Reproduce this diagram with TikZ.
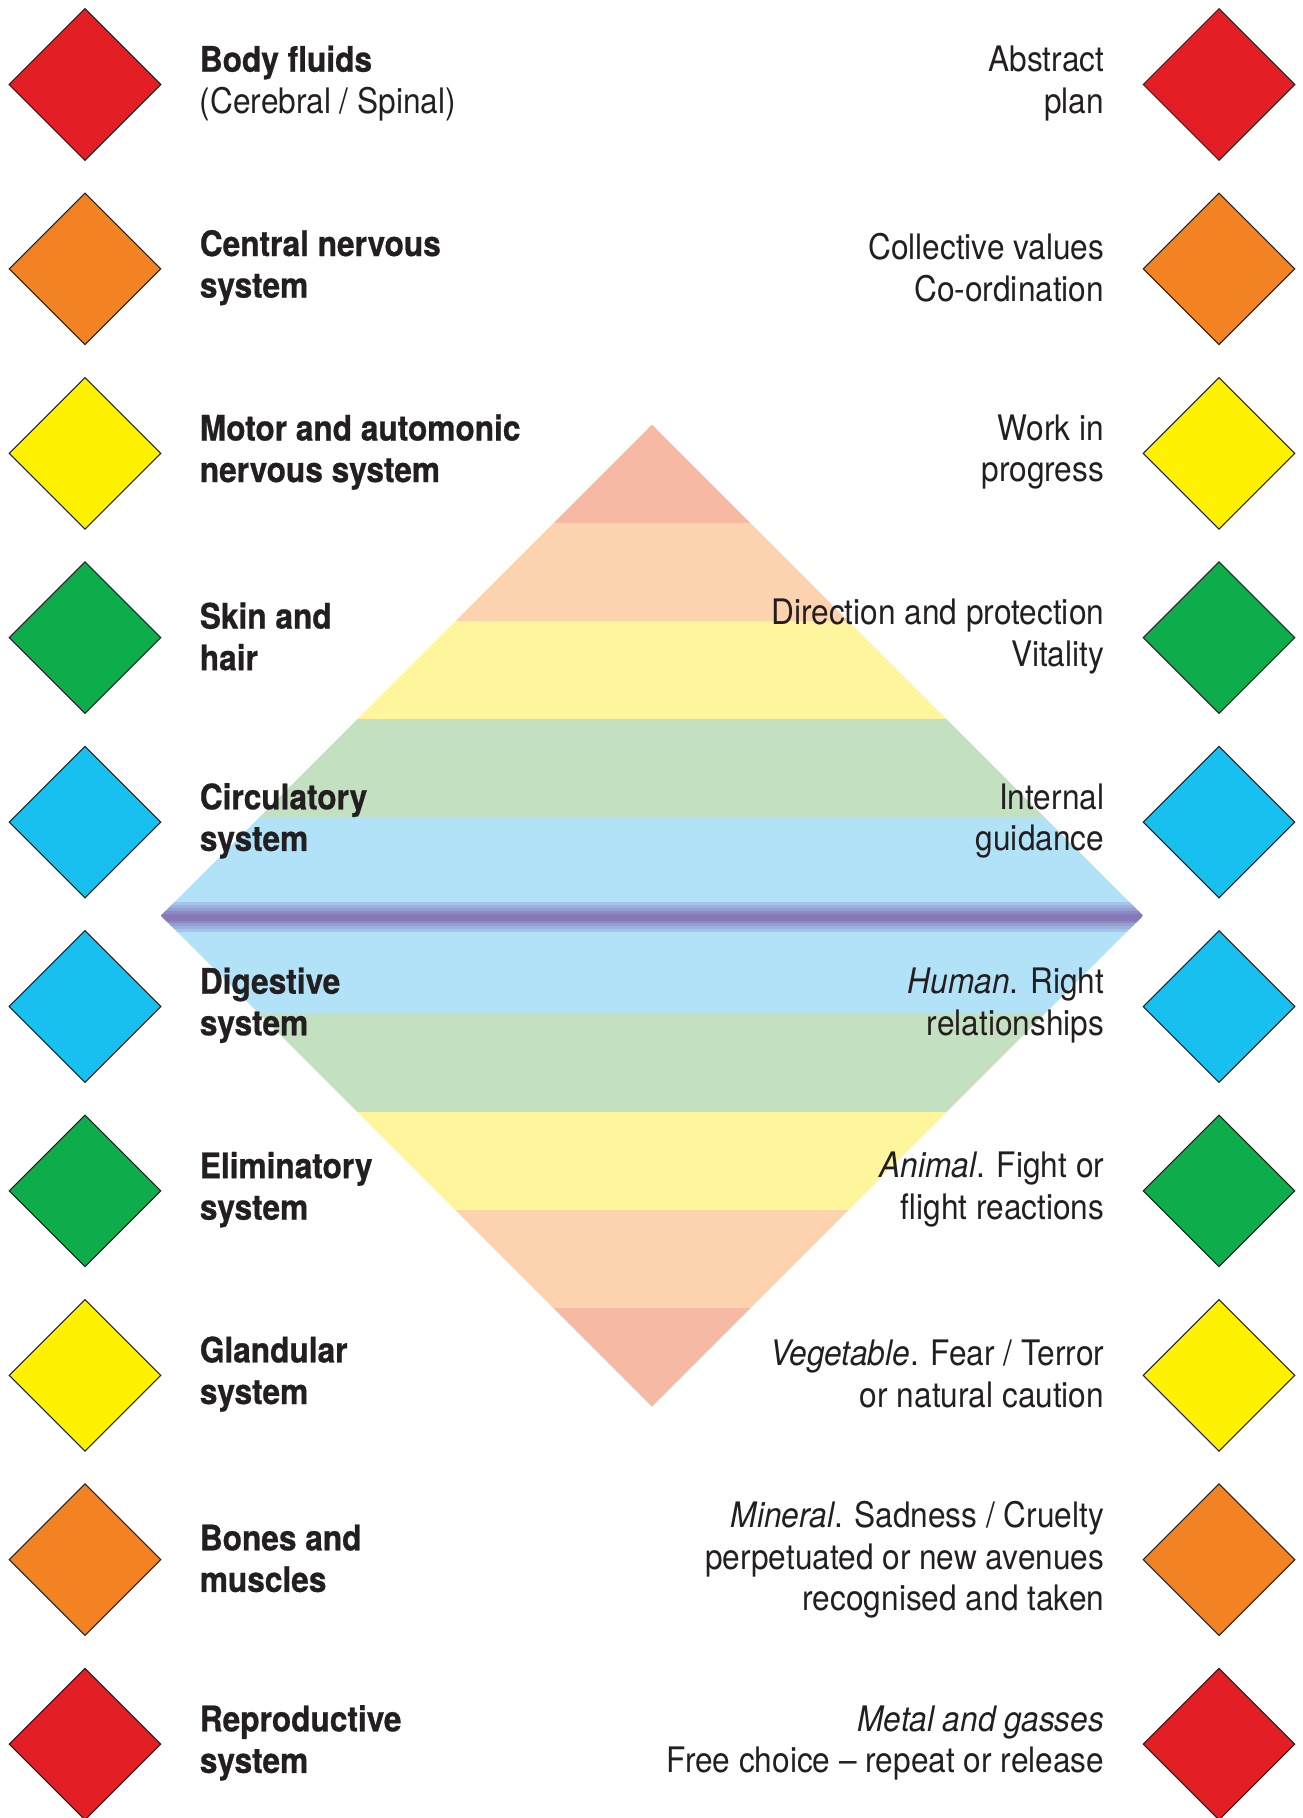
\documentclass[tikz,border=0pt]{standalone}
\usepackage{fontspec}
\setmainfont{TeX Gyre Heros}[FakeStretch=0.90, BoldFeatures={FakeBold=0.7}]
\usetikzlibrary{shapes.geometric, positioning}
\usepackage{xcolor}
\definecolor{ink}{HTML}{231F20}
\definecolor{mred}{HTML}{E31E24}
\definecolor{morange}{HTML}{F28222}
\definecolor{myellow}{HTML}{FFF200}
\definecolor{mgreen}{HTML}{0DAD4B}
\definecolor{mcyan}{HTML}{17C0EF}
\definecolor{bandsalmon}{HTML}{F6BAA4}
\definecolor{bandpeach}{HTML}{FDD3AF}
\definecolor{bandyellow}{HTML}{FFF59D}
\definecolor{bandgreen}{HTML}{C3E0C1}
\definecolor{bandblue}{HTML}{B2E2F7}
\definecolor{stripeA}{HTML}{A6C4EA}
\definecolor{stripeB}{HTML}{9CB1DE}
\definecolor{stripeC}{HTML}{939FD1}
\definecolor{stripeD}{HTML}{8C8AC3}
\definecolor{stripeE}{HTML}{8878B7}
\def\gap{0.76cm}

\begin{document}
\begin{tikzpicture}[x=0.02cm, y=-0.02cm, node distance=\gap]
    \tikzstyle{marker}=[diamond, draw=ink, line width=0.6pt, minimum width=3.04cm, minimum height=3.04cm, inner sep=0pt]
    \tikzstyle{red marker}=[marker, fill=mred]
    \tikzstyle{orange marker}=[marker, fill=morange]
    \tikzstyle{yellow marker}=[marker, fill=myellow]
    \tikzstyle{green marker}=[marker, fill=mgreen]
    \tikzstyle{cyan marker}=[marker, fill=mcyan]
    \tikzstyle{body text}=[anchor=west, align=left, inner sep=0pt, yshift=0.025cm, text=ink, font=\fontsize{20}{23.65}\selectfont\bfseries]
    \tikzstyle{meaning text}=[anchor=east, align=right, inner sep=0pt, yshift=0.025cm, text=ink, font=\fontsize{20}{23.65}\selectfont]

    \useasboundingbox (0,0) rectangle (1302,1818);

    % central diamond, colour bands
    \begin{scope}
        \clip (652,424.6) -- (1143,915.6) -- (652,1406.6) -- (161,915.6) -- cycle;
        \fill[bandsalmon] (161,424.6) rectangle (1143,522.8);
        \fill[bandpeach] (161,522.8) rectangle (1143,621.0);
        \fill[bandyellow] (161,621.0) rectangle (1143,719.2);
        \fill[bandgreen] (161,719.2) rectangle (1143,817.4);
        \fill[bandblue] (161,817.4) rectangle (1143,1013.8);
        \fill[bandgreen] (161,1013.8) rectangle (1143,1112.0);
        \fill[bandyellow] (161,1112.0) rectangle (1143,1210.2);
        \fill[bandpeach] (161,1210.2) rectangle (1143,1308.4);
        \fill[bandsalmon] (161,1308.4) rectangle (1143,1406.6);
        \fill[stripeA] (161,902) rectangle (1143,932);
        \fill[stripeB] (161,905) rectangle (1143,929);
        \fill[stripeC] (161,908) rectangle (1143,926);
        \fill[stripeD] (161,911) rectangle (1143,923);
        \fill[stripeE] (161,913.5) rectangle (1143,920.5);
    \end{scope}

    \node[red marker] (LD-1) at (85,84.5) {};
    \node[orange marker] (LD-2) at (85,268.9) {};
    \node[yellow marker] (LD-3) at (85,453.3) {};
    \node[green marker] (LD-4) at (85,637.7) {};
    \node[cyan marker] (LD-5) at (85,822.1) {};
    \node[cyan marker] (LD-6) at (85,1006.5) {};
    \node[green marker] (LD-7) at (85,1190.9) {};
    \node[yellow marker] (LD-8) at (85,1375.3) {};
    \node[orange marker] (LD-9) at (85,1559.7) {};
    \node[red marker] (LD-10) at (85,1744.1) {};

    \node[red marker] (RD-1) at (1219,84.5) {};
    \node[orange marker] (RD-2) at (1219,268.9) {};
    \node[yellow marker] (RD-3) at (1219,453.3) {};
    \node[green marker] (RD-4) at (1219,637.7) {};
    \node[cyan marker] (RD-5) at (1219,822.1) {};
    \node[cyan marker] (RD-6) at (1219,1006.5) {};
    \node[green marker] (RD-7) at (1219,1190.9) {};
    \node[yellow marker] (RD-8) at (1219,1375.3) {};
    \node[orange marker] (RD-9) at (1219,1559.7) {};
    \node[red marker] (RD-10) at (1219,1744.1) {};

    \node[body text, right=of LD-1] (L-1) {Body fluids\\\mdseries (Cerebral / Spinal)};
    \node[body text, right=of LD-2] (L-2) {Central nervous\\system};
    \node[body text, right=of LD-3] (L-3) {Motor and automonic\\nervous system};
    \node[body text, right=of LD-4] (L-4) {Skin and\\hair};
    \node[body text, right=of LD-5] (L-5) {Circulatory\\system};
    \node[body text, right=of LD-6] (L-6) {Digestive\\system};
    \node[body text, right=of LD-7] (L-7) {Eliminatory\\system};
    \node[body text, right=of LD-8] (L-8) {Glandular\\system};
    \node[body text, right=of LD-9] (L-9) {Bones and\\muscles};
    \node[body text, right=of LD-10] (L-10) {Reproductive\\system};

    \node[meaning text, left=of RD-1] (R-1) {Abstract\\plan};
    \node[meaning text, left=of RD-2] (R-2) {Collective values\\Co-ordination};
    \node[meaning text, left=of RD-3] (R-3) {Work in\\progress};
    \node[meaning text, left=of RD-4] (R-4) {Direction and protection\\Vitality};
    \node[meaning text, left=of RD-5] (R-5) {Internal\\guidance};
    \node[meaning text, left=of RD-6] (R-6) {\textit{Human}. Right\\relationships};
    \node[meaning text, left=of RD-7] (R-7) {\textit{Animal}. Fight or\\flight reactions};
    \node[meaning text, left=of RD-8] (R-8) {\textit{Vegetable}. Fear / Terror\\or natural caution};
    \node[meaning text, left=of RD-9, yshift=-0.025cm] (R-9) {\textit{Mineral}. Sadness / Cruelty\\perpetuated or new avenues\\recognised and taken};
    \node[meaning text, left=of RD-10] (R-10) {\textit{Metal and gasses}\\Free choice -- repeat or release};
\end{tikzpicture}
\end{document}
